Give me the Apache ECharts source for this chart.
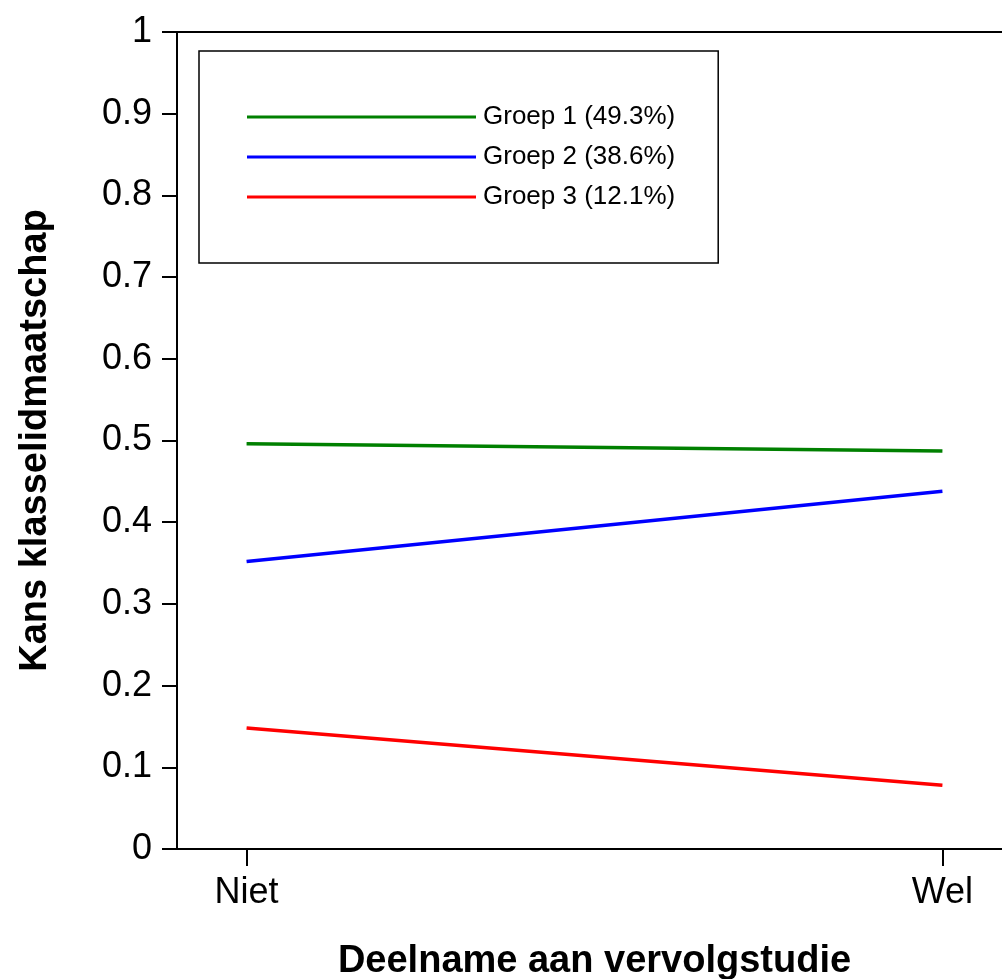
<!DOCTYPE html>
<html>
<head>
<meta charset="utf-8">
<script src="https://cdn.jsdelivr.net/npm/echarts@6/dist/echarts.min.js"></script>
<style>
html,body{margin:0;padding:0;background:#fff;}
#chart{width:1002px;height:979px;}
</style>
</head>
<body>
<div id="chart"></div>
<script>
// Data
var categories = ['Niet', 'Wel'];
var seriesNames = ['Groep 1 (49.3%)', 'Groep 2 (38.6%)', 'Groep 3 (12.1%)'];
var groep1 = [0.496, 0.487];
var groep2 = [0.352, 0.438];
var groep3 = [0.148, 0.078];
var yTicks = [0, 0.1, 0.2, 0.3, 0.4, 0.5, 0.6, 0.7, 0.8, 0.9, 1];

var colors = ['#008000', '#0000ff', '#ff0000'];
var allValues = [groep1, groep2, groep3];
var FONT = '"Liberation Sans", Arial, sans-serif';

function toPairs(vals) {
  return vals.map(function (v, i) { return [i, v]; });
}

var chart = echarts.init(document.getElementById('chart'), null, {renderer: 'canvas'});
var option = {
  animation: false,
  backgroundColor: '#fff',
  grid: {
    left: 177, top: 32, bottom: 130, right: -10,
    containLabel: false,
    outerBoundsMode: 'none',
    show: true, borderColor: '#000', borderWidth: 2, backgroundColor: 'transparent'
  },
  legend: {
    orient: 'vertical',
    left: 199, top: 51,
    padding: [51, 43, 51, 48],
    borderColor: '#000', borderWidth: 1.5, borderRadius: 0,
    backgroundColor: '#fff',
    itemWidth: 229, itemHeight: 3, itemGap: 10,
    icon: 'rect',
    data: seriesNames,
    textStyle: {fontFamily: FONT, fontSize: 26, color: '#000', lineHeight: 30, padding: [0,0,0,2]}
  },
  xAxis: {
    type: 'value',
    min: -0.1, max: 1.1,
    name: 'Deelname aan vervolgstudie',
    nameLocation: 'middle',
    nameGap: 94,
    nameTextStyle: {fontFamily: FONT, fontSize: 38, fontWeight: 'bold', color: '#000'},
    axisLine: {show: true, onZero: false, lineStyle: {color: '#000', width: 2}},
    axisTick: {show: true, length: 17, customValues: [0, 1], lineStyle: {color: '#000', width: 2}},
    axisLabel: {
      customValues: [0, 1], margin: 26,
      fontFamily: FONT, fontSize: 36, color: '#000',
      formatter: function (v) { return categories[Math.round(v)]; }
    },
    splitLine: {show: false}
  },
  yAxis: {
    type: 'value',
    min: 0, max: 1, interval: 0.1,
    name: 'Kans klasselidmaatschap',
    nameLocation: 'middle',
    nameGap: 122,
    nameRotate: 90,
    nameTextStyle: {fontFamily: FONT, fontSize: 38, fontWeight: 'bold', color: '#000'},
    axisLine: {show: true, onZero: false, lineStyle: {color: '#000', width: 2}},
    axisTick: {show: true, length: 15, lineStyle: {color: '#000', width: 2}},
    axisLabel: {
      margin: 25, fontFamily: FONT, fontSize: 36, color: '#000',
      formatter: function (v) { return String(Math.round(v * 10) / 10); }
    },
    splitLine: {show: false}
  },
  series: allValues.map(function (vals, i) {
    return {
      name: seriesNames[i],
      type: 'line',
      data: toPairs(vals),
      symbol: 'none',
      lineStyle: {color: colors[i], width: 3.5},
      itemStyle: {color: colors[i]}
    };
  })
};
chart.setOption(option);
</script>
</body>
</html>
